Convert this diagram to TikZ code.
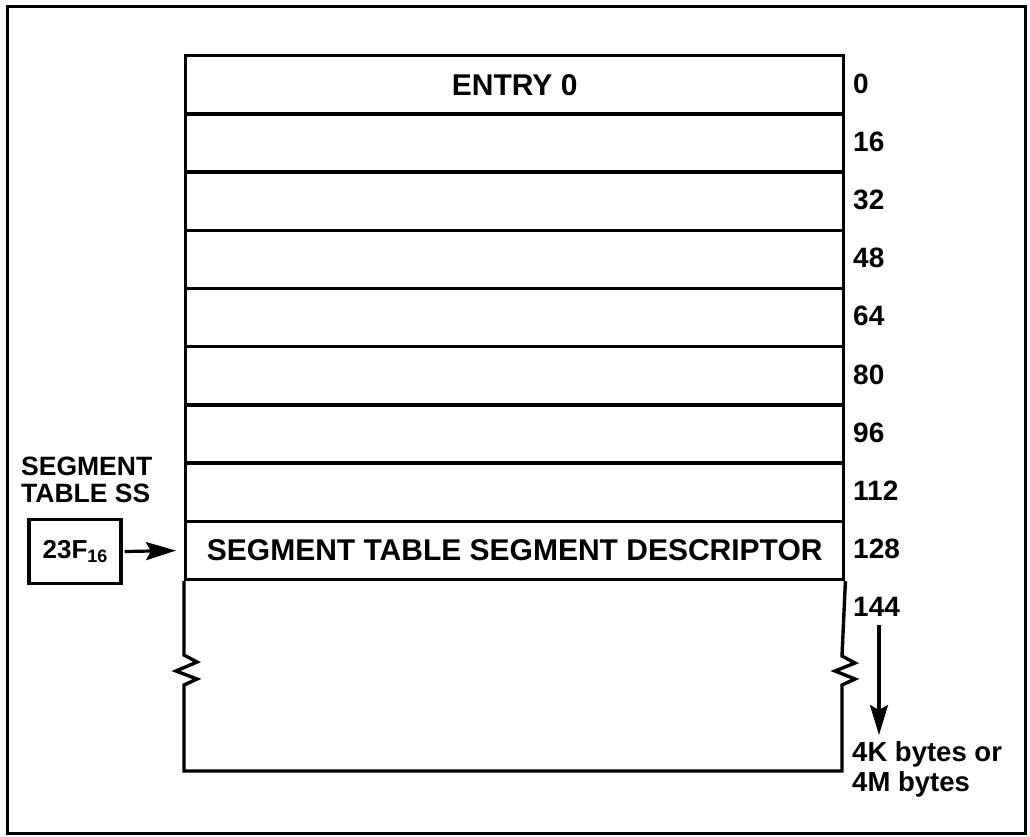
\documentclass[tikz,border=0pt]{standalone}
\usepackage{fontspec}
\setmainfont{Liberation Sans}
\usetikzlibrary{arrows.meta}
\begin{document}
\begin{tikzpicture}[x=1pt,y=-1pt,line join=miter,
  rowbox/.style={draw,line width=3.4pt,minimum width=658pt,minimum height=58.2pt,anchor=north west,inner sep=0pt},
  big/.style={font=\fontsize{30}{32}\selectfont\bfseries},
  lbl/.style={font=\fontsize{28}{30}\selectfont\bfseries,anchor=base west,inner sep=0pt},
  side/.style={font=\fontsize{26.5}{27}\selectfont\bfseries,align=left,anchor=north west,inner sep=0pt},
  thickline/.style={line width=3.4pt},
  arr/.style={line width=3.2pt,-{Stealth[length=30pt,width=18pt,inset=5pt]}}]
\useasboundingbox (0,0) rectangle (1030,836);
\draw[line width=3pt] (7,6) rectangle (1025,833);
% rows
\foreach \k in {0,...,8}{
  \node[rowbox] (r\k) at (184,{54+58.2*\k}) {};
}
\node[big] at (r0.center) {ENTRY 0};
\node[big] at (r8.center) {SEGMENT TABLE SEGMENT DESCRIPTOR};
% lower open part with break marks
\draw[thickline] (r8.south west) -- (184,655) -- (197,662) -- (176,671) -- (197,679) -- (184,685)
  -- (184,771) -- (842,771) -- (842,685) -- (855,679) -- (835,671) -- (855,663) -- (842,656) -- (r8.south east);
% offsets
\foreach \v/\i in {0/0,16/1,32/2,48/3,64/4,80/5,96/6,112/7,128/8,144/9}{
  \node[lbl] (n\i) at (853,{93+58.2*\i}) {\v};
}
% size note
\node[side,font=\fontsize{27.5}{30}\selectfont\bfseries] (sz) at (852,741) {4K bytes or\\4M bytes};
\coordinate (a1) at (879,625);
\coordinate (a2) at (879,735);
\draw[arr] (a1) -- (a2);
% segment table ss
\node[side] (ss) at (21,457) {SEGMENT\\TABLE SS};
\node[draw,line width=3.2pt,minimum width=92pt,minimum height=64pt,inner sep=0pt,
  font=\fontsize{26}{28}\selectfont\bfseries] (b23) at (75,551.5) {23F\raisebox{-4pt}{\fontsize{18}{20}\selectfont 16}};
\draw[arr,shorten >=8pt] (b23.east) ++(2,0) -- (r8.west);
\end{tikzpicture}
\end{document}
